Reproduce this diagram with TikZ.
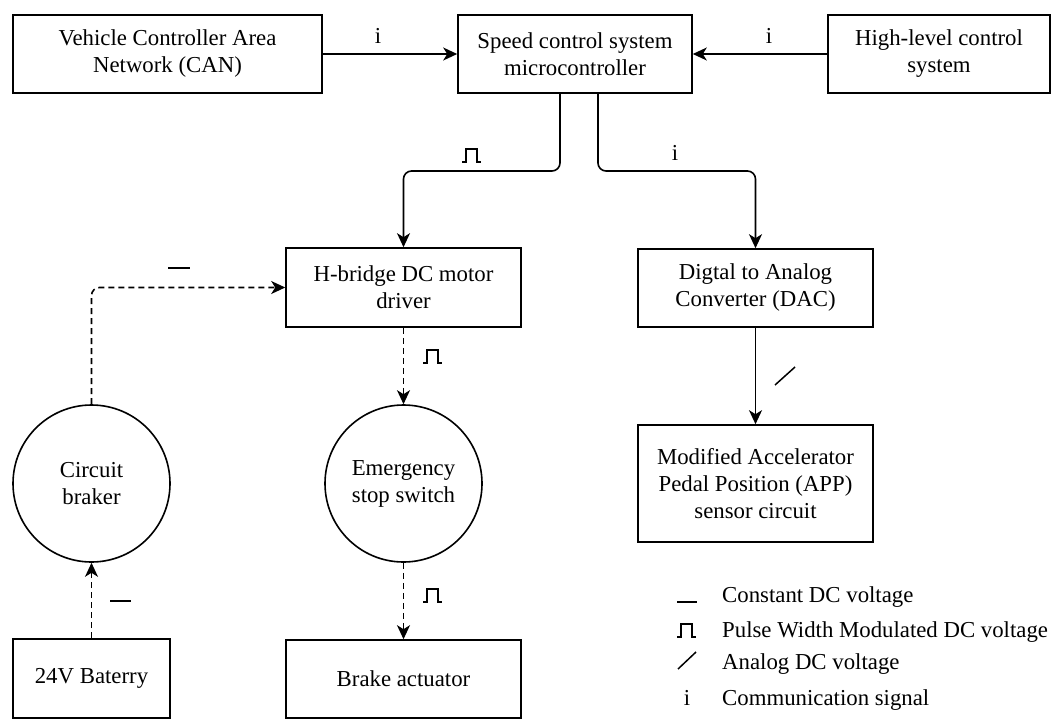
\documentclass[tikz,border=0pt]{standalone}
\usepackage{fontspec}
\setmainfont{Liberation Serif}
\usetikzlibrary{arrows.meta}
\begin{document}
\begin{tikzpicture}[x=1pt,y=-1pt,
  every node/.style={font=\fontsize{22.8}{27}\selectfont},
  box/.style={draw, line width=1.6pt, inner sep=0pt, align=center},
  disc/.style={draw, circle, line width=1.6pt, minimum size=157pt, inner sep=0pt, align=center},
  conn/.style={line width=1.6pt, -{Stealth[length=14pt,width=13pt,inset=4pt]}, rounded corners=8pt},
  dconn/.style={conn, dash pattern=on 6pt off 4pt},
  sym/.style={line width=1.5pt},
  lbl/.style={anchor=base, inner sep=0pt},
  legtext/.style={anchor=base west, inner sep=0pt}]
\useasboundingbox (0,0) rectangle (1062,720);

% blocks
\node[box, minimum width=309pt, minimum height=78pt] (can) at (167.5,54) {Vehicle Controller Area\\Network (CAN)};
\node[box, minimum width=234pt, minimum height=78pt] (speed) at (575,54) {Speed control system\\microcontroller};
\node[box, minimum width=222pt, minimum height=78pt] (high) at (939,54) {High-level control\\system};
\node[box, minimum width=235pt, minimum height=79pt] (hb) at (403.5,287.5) {H-bridge DC motor\\driver};
\node[box, minimum width=235pt, minimum height=78pt] (dac) at (755.5,288) {Digtal to Analog\\Converter (DAC)};
\node[box, minimum width=235pt, minimum height=117pt] (app) at (755.5,483.5) {Modified Accelerator\\Pedal Position (APP)\\sensor circuit};
\node[disc] (cb) at (91.5,483.5) {Circuit\\braker};
\node[disc] (es) at (403.5,483.5) {Emergency\\stop switch};
\node[box, minimum width=157pt, minimum height=79pt] (bat) at (91.5,678.5) {24V Baterry};
\node[box, minimum width=235pt, minimum height=78pt] (brake) at (403.5,679) {Brake actuator};

% signal connectors
\draw[conn] (can) -- (speed);
\draw[conn] (high) -- (speed);
\coordinate (sL) at ([xshift=-15pt]speed.south);
\coordinate (sR) at ([xshift=23pt]speed.south);
\coordinate (brk) at (0,171);
\draw[conn] (sL) -- (sL |- brk) -| (hb.north);
\draw[conn] (sR) -- (sR |- brk) -| (dac.north);
\draw[conn] (dac) -- (app);

% power connectors
\draw[dconn] (cb.north) |- (hb.west);
\draw[dconn] (hb) -- (es);
\draw[dconn] (es) -- (brake);
\draw[dconn] (bat) -- (cb);

% connector labels
\node[lbl] (ican) at (378,43) {i};
\node[lbl] (ihigh) at (769,43) {i};
\node[lbl] (idac) at (675,160) {i};
\draw[sym] (462,162) -- ++(4,0) -- ++(0,-13) -- ++(11,0) -- ++(0,13) -- ++(4,0);
\draw[sym] (423,363) -- ++(4,0) -- ++(0,-13) -- ++(11,0) -- ++(0,13) -- ++(4,0);
\draw[sym] (423,602) -- ++(4,0) -- ++(0,-13) -- ++(11,0) -- ++(0,13) -- ++(4,0);
\draw[sym] (168,268) -- (190,268);
\draw[sym] (110,601) -- (131,601);
\draw[sym] (775,385) -- (795,367);

% legend
\draw[sym] (677,602) -- (697,602);
\node[legtext] (lg1) at (722,602) {Constant DC voltage};
\draw[sym] (677,637) -- ++(4,0) -- ++(0,-13) -- ++(11,0) -- ++(0,13) -- ++(4,0);
\node[legtext] (lg2) at (722,637) {Pulse Width Modulated DC voltage};
\draw[sym] (678,669) -- (696,652);
\node[legtext] (lg3) at (722,669) {Analog DC voltage};
\node[lbl] (lgi) at (687,705) {i};
\node[legtext] (lg4) at (722,705) {Communication signal};
\end{tikzpicture}
\end{document}
